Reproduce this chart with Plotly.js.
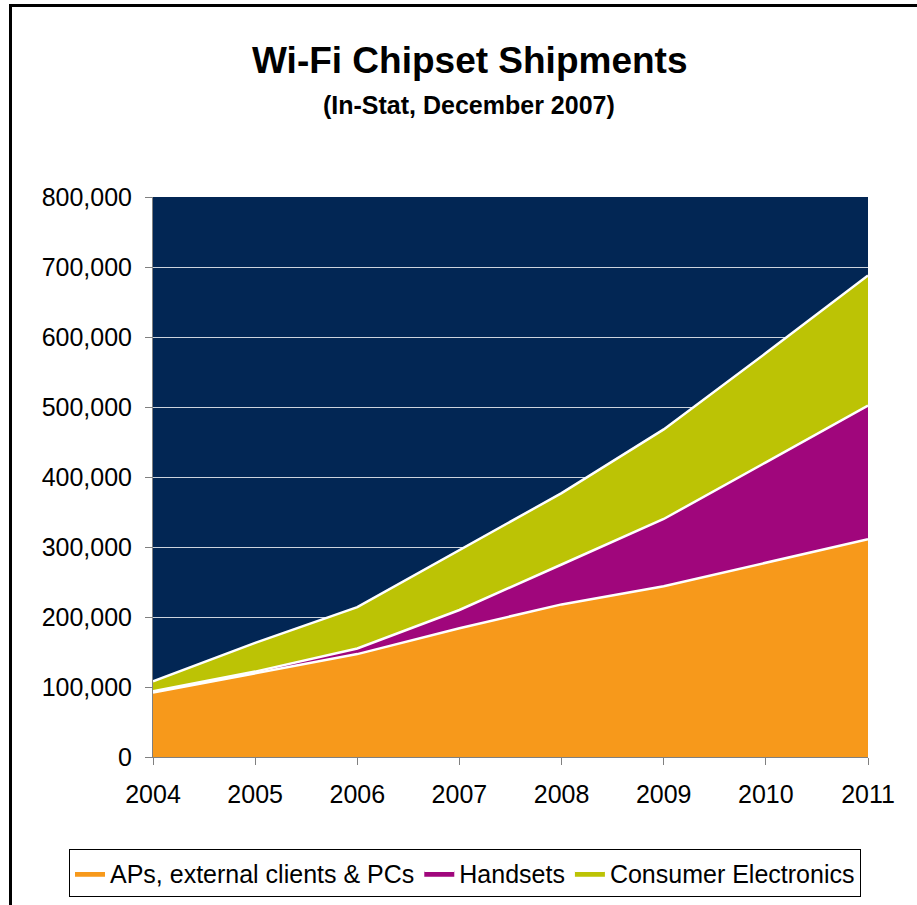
<!DOCTYPE html>
<html>
<head>
<meta charset="utf-8">
<script src="https://cdn.plot.ly/plotly-3.0.1.min.js"></script>
<style>
  html, body { margin: 0; padding: 0; background: #ffffff; }
  #wrap { position: relative; width: 917px; height: 905px; overflow: hidden; }
  #frame { position: absolute; left: 9px; top: 4px; width: 1000px; height: 1000px; border: 3px solid #000; box-sizing: border-box; }
  #chart { position: absolute; left: 0; top: 0; width: 917px; height: 905px; }
</style>
</head>
<body>
<div id="wrap">
  <div id="frame"></div>
  <div id="chart"></div>
</div>
<script>
// ---- data (units: chipsets) ----
const years = [2004, 2005, 2006, 2007, 2008, 2009, 2010, 2011];
const apsPcs = [92000, 120000, 147000, 184000, 218000, 244000, 277000, 311000];
const handsets = [2000, 2000, 8000, 26000, 57000, 96000, 144000, 191000];
const consumerElectronics = [14000, 41000, 59000, 86000, 102000, 128000, 156000, 186000];
const seriesNames = ["APs, external clients & PCs", "Handsets", "Consumer Electronics"];
const seriesColors = ["#F7991B", "#A0067C", "#BCC305"];
const yTickVals = [0, 100000, 200000, 300000, 400000, 500000, 600000, 700000, 800000];
const xTickVals = years;

const FONT = "Liberation Sans, Arial, sans-serif";
const seriesValues = [apsPcs, handsets, consumerElectronics];

const traces = seriesValues.map((vals, i) => ({
  type: "scatter",
  mode: "lines",
  x: years,
  y: vals,
  name: seriesNames[i],
  stackgroup: "one",
  fillcolor: seriesColors[i],
  line: { color: "#ffffff", width: 2.5 },
  hoverinfo: "skip"
}));

const layout = {
  width: 917,
  height: 905,
  margin: { l: 153, r: 49, t: 197, b: 148, autoexpand: false },
  paper_bgcolor: "rgba(0,0,0,0)",
  plot_bgcolor: "#022654",
  font: { family: FONT, color: "#000000", size: 25 },
  showlegend: true,
  legend: {
    orientation: "h",
    x: -0.1175, xanchor: "left",
    y: -0.1643, yanchor: "top",
    bgcolor: "#ffffff",
    bordercolor: "#000000",
    borderwidth: 1,
    font: { family: FONT, size: 25, color: "#000000" },
    traceorder: "normal",
    itemwidth: 30,
    tracegroupgap: 0
  },
  xaxis: {
    range: [2004, 2011],
    tickmode: "array",
    tickvals: xTickVals,
    ticktext: xTickVals.map(String),
    ticks: "outside",
    ticklen: 7,
    tickcolor: "#808080",
    showline: true,
    linecolor: "#808080",
    linewidth: 1,
    showgrid: false,
    zeroline: false,
    automargin: false,
    ticklabelstandoff: 8,
    tickfont: { family: FONT, size: 25, color: "#000000" },
    fixedrange: true
  },
  yaxis: {
    range: [0, 800000],
    tickmode: "array",
    tickvals: yTickVals,
    tickformat: ",d",
    ticks: "outside",
    ticklen: 7,
    tickcolor: "#808080",
    showline: true,
    linecolor: "#808080",
    linewidth: 1,
    showgrid: true,
    gridcolor: "rgba(255,255,255,0.8)",
    gridwidth: 1,
    zeroline: false,
    automargin: false,
    ticklabelstandoff: 8,
    tickfont: { family: FONT, size: 25, color: "#000000" },
    fixedrange: true
  },
  annotations: [
    {
      text: "<b>Wi-Fi Chipset Shipments</b>",
      xref: "paper", yref: "paper",
      x: 0.442, y: 1.2435, xanchor: "center", yanchor: "middle",
      showarrow: false,
      font: { family: FONT, size: 37, color: "#000000" }
    },
    {
      text: "<b>(In-Stat, December 2007)</b>",
      xref: "paper", yref: "paper",
      x: 0.442, y: 1.1646, xanchor: "center", yanchor: "middle",
      showarrow: false,
      font: { family: FONT, size: 25, color: "#000000" }
    }
  ]
};

Plotly.newPlot("chart", traces, layout, { staticPlot: true, displayModeBar: false });
</script>
</body>
</html>
